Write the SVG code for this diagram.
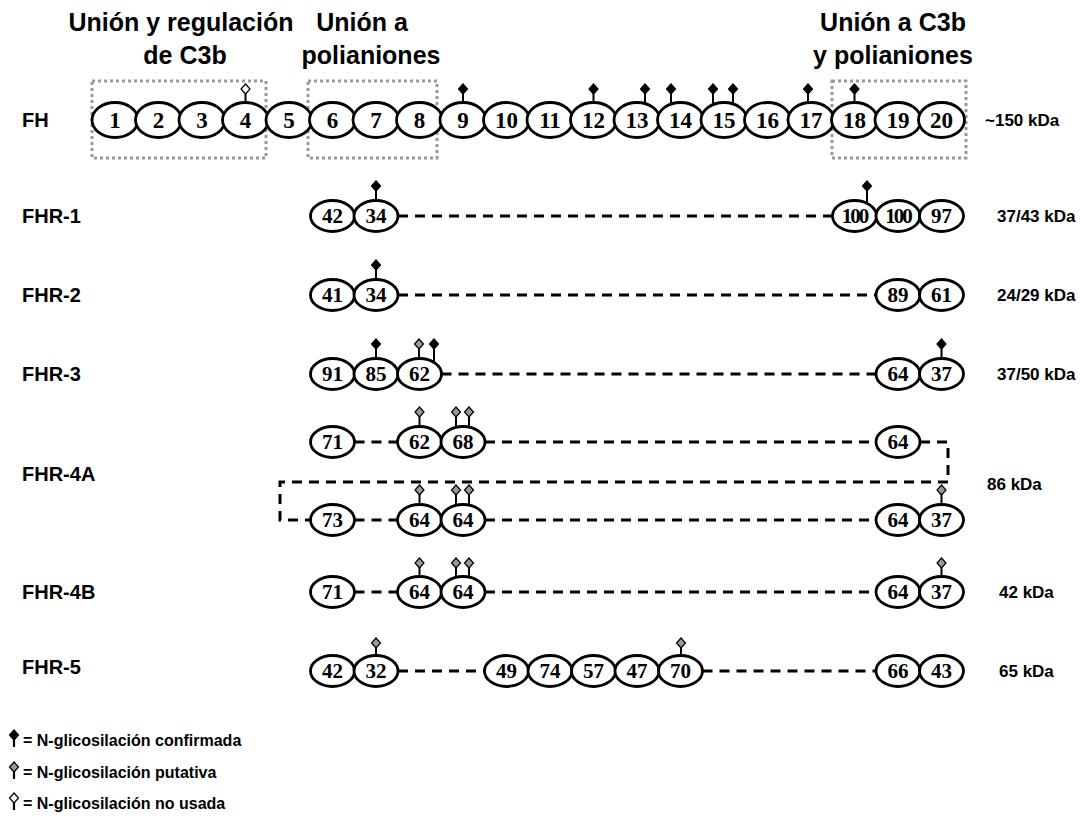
<svg xmlns="http://www.w3.org/2000/svg" xmlns:xlink="http://www.w3.org/1999/xlink" width="1083" height="820" viewBox="0 0 1083 820">
<style>
.dom{fill:#fff;stroke:#000;stroke-width:2.8}
.n{font-family:"Liberation Serif",serif;font-weight:bold;font-size:23px;text-anchor:middle}
.s{font-family:"Liberation Serif",serif;font-weight:bold;font-size:21px;text-anchor:middle}
.t{font-family:"Liberation Sans",Arial,sans-serif;font-weight:bold;font-size:25px;text-anchor:middle}
.lab{font-family:"Liberation Sans",Arial,sans-serif;font-weight:bold;font-size:20px}
.kda{font-family:"Liberation Sans",Arial,sans-serif;font-weight:bold;font-size:17px}
.leg{font-family:"Liberation Sans",Arial,sans-serif;font-weight:bold;font-size:16px}
.box{fill:none;stroke:#999;stroke-width:3;stroke-dasharray:3 3}
.dash{fill:none;stroke:#000;stroke-width:3;stroke-dasharray:10 7}
</style>
<defs>
<g id="mc"><line x1="0" y1="0" x2="0" y2="31" stroke="#000" stroke-width="2"/><path d="M0,-5 L4.5,0 L0,5 L-4.5,0 Z" fill="#000" stroke="#000" stroke-width="1.2"/></g>
<g id="mp"><line x1="0" y1="0" x2="0" y2="31" stroke="#000" stroke-width="2"/><path d="M0,-5 L4.5,0 L0,5 L-4.5,0 Z" fill="#999" stroke="#000" stroke-width="1.2"/></g>
<g id="mu"><line x1="0" y1="0" x2="0" y2="31" stroke="#000" stroke-width="2"/><path d="M0,-5 L4.5,0 L0,5 L-4.5,0 Z" fill="#fff" stroke="#000" stroke-width="1.2"/></g>
</defs>
<rect width="1083" height="820" fill="#fff"/>

<g id="titles">
<text class="t" x="181" y="31">Unión y regulación</text>
<text class="t" x="185" y="64">de C3b</text>
<text class="t" x="362" y="31">Unión a</text>
<text class="t" x="371" y="64">polianiones</text>
<text class="t" x="893" y="31">Unión a C3b</text>
<text class="t" x="893" y="64">y polianiones</text>
</g>

<g id="regions">
<rect class="box" x="92" y="81" width="174" height="77"/>
<rect class="box" x="308" y="81" width="129" height="77"/>
<rect class="box" x="832" y="81" width="134" height="77"/>
</g>

<g id="row-labels">
<text class="lab" x="22" y="127">FH</text>
<text class="lab" x="22" y="223">FHR-1</text>
<text class="lab" x="22" y="302">FHR-2</text>
<text class="lab" x="22" y="381">FHR-3</text>
<text class="lab" x="22" y="481">FHR-4A</text>
<text class="lab" x="22" y="599">FHR-4B</text>
<text class="lab" x="22" y="674">FHR-5</text>
</g>

<g id="kda">
<text class="kda" x="985" y="126">~150 kDa</text>
<text class="kda" x="997" y="222">37/43 kDa</text>
<text class="kda" x="997" y="301">24/29 kDa</text>
<text class="kda" x="997" y="380">37/50 kDa</text>
<text class="kda" x="987" y="490">86 kDa</text>
<text class="kda" x="999" y="598">42 kDa</text>
<text class="kda" x="999" y="677">65 kDa</text>
</g>

<g id="connectors">
<line class="dash" x1="398" y1="216" x2="832" y2="216"/>
<line class="dash" x1="398" y1="295" x2="876" y2="295"/>
<line class="dash" x1="441.5" y1="374" x2="876" y2="374"/>
<line class="dash" x1="354.5" y1="442" x2="397.5" y2="442"/>
<line class="dash" x1="485" y1="442" x2="876" y2="442"/>
<path class="dash" d="M920,442 H948 V482 H280 V520 H310.5"/>
<line class="dash" x1="354.5" y1="520" x2="397.5" y2="520"/>
<line class="dash" x1="485" y1="520" x2="876" y2="520"/>
<line class="dash" x1="354.5" y1="592" x2="397.5" y2="592"/>
<line class="dash" x1="485" y1="592" x2="876" y2="592"/>
<line class="dash" x1="398" y1="671" x2="484.5" y2="671"/>
<line class="dash" x1="702.5" y1="671" x2="876" y2="671"/>
</g>

<g id="glycosylation">
<use xlink:href="#mu" x="245.5" y="89"/>
<use xlink:href="#mc" x="463" y="89"/>
<use xlink:href="#mc" x="593.5" y="89"/>
<use xlink:href="#mc" x="645" y="89"/>
<use xlink:href="#mc" x="671" y="89"/>
<use xlink:href="#mc" x="713" y="89"/>
<use xlink:href="#mc" x="733" y="89"/>
<use xlink:href="#mc" x="808" y="89"/>
<use xlink:href="#mc" x="854.5" y="89"/>
<use xlink:href="#mc" x="376" y="186"/>
<use xlink:href="#mc" x="867" y="186"/>
<use xlink:href="#mc" x="376" y="265"/>
<use xlink:href="#mc" x="376" y="344"/>
<use xlink:href="#mp" x="419" y="344"/>
<use xlink:href="#mc" x="434" y="344"/>
<use xlink:href="#mc" x="941.5" y="344"/>
<use xlink:href="#mp" x="419.5" y="412"/>
<use xlink:href="#mp" x="456" y="412"/>
<use xlink:href="#mp" x="469" y="412"/>
<use xlink:href="#mp" x="419.5" y="490"/>
<use xlink:href="#mp" x="456" y="490"/>
<use xlink:href="#mp" x="469" y="490"/>
<use xlink:href="#mp" x="941.5" y="490"/>
<use xlink:href="#mp" x="419.5" y="563"/>
<use xlink:href="#mp" x="456" y="563"/>
<use xlink:href="#mp" x="469" y="563"/>
<use xlink:href="#mp" x="941.5" y="563"/>
<use xlink:href="#mp" x="376" y="643"/>
<use xlink:href="#mp" x="681" y="643"/>
</g>

<g id="FH">
<g id="fh-1"><ellipse class="dom" cx="115" cy="120" rx="23" ry="17.5"/><text class="n" x="115" y="128">1</text></g>
<g id="fh-2"><ellipse class="dom" cx="158.5" cy="120" rx="23" ry="17.5"/><text class="n" x="158.5" y="128">2</text></g>
<g id="fh-3"><ellipse class="dom" cx="202" cy="120" rx="23" ry="17.5"/><text class="n" x="202" y="128">3</text></g>
<g id="fh-4"><ellipse class="dom" cx="245.5" cy="120" rx="23" ry="17.5"/><text class="n" x="245.5" y="128">4</text></g>
<g id="fh-5"><ellipse class="dom" cx="289" cy="120" rx="23" ry="17.5"/><text class="n" x="289" y="128">5</text></g>
<g id="fh-6"><ellipse class="dom" cx="332.5" cy="120" rx="23" ry="17.5"/><text class="n" x="332.5" y="128">6</text></g>
<g id="fh-7"><ellipse class="dom" cx="376" cy="120" rx="23" ry="17.5"/><text class="n" x="376" y="128">7</text></g>
<g id="fh-8"><ellipse class="dom" cx="419.5" cy="120" rx="23" ry="17.5"/><text class="n" x="419.5" y="128">8</text></g>
<g id="fh-9"><ellipse class="dom" cx="463" cy="120" rx="23" ry="17.5"/><text class="n" x="463" y="128">9</text></g>
<g id="fh-10"><ellipse class="dom" cx="506.5" cy="120" rx="23" ry="17.5"/><text class="n" x="506.5" y="128">10</text></g>
<g id="fh-11"><ellipse class="dom" cx="550" cy="120" rx="23" ry="17.5"/><text class="n" x="550" y="128">11</text></g>
<g id="fh-12"><ellipse class="dom" cx="593.5" cy="120" rx="23" ry="17.5"/><text class="n" x="593.5" y="128">12</text></g>
<g id="fh-13"><ellipse class="dom" cx="637" cy="120" rx="23" ry="17.5"/><text class="n" x="637" y="128">13</text></g>
<g id="fh-14"><ellipse class="dom" cx="680.5" cy="120" rx="23" ry="17.5"/><text class="n" x="680.5" y="128">14</text></g>
<g id="fh-15"><ellipse class="dom" cx="724" cy="120" rx="23" ry="17.5"/><text class="n" x="724" y="128">15</text></g>
<g id="fh-16"><ellipse class="dom" cx="767.5" cy="120" rx="23" ry="17.5"/><text class="n" x="767.5" y="128">16</text></g>
<g id="fh-17"><ellipse class="dom" cx="811" cy="120" rx="23" ry="17.5"/><text class="n" x="811" y="128">17</text></g>
<g id="fh-18"><ellipse class="dom" cx="854.5" cy="120" rx="23" ry="17.5"/><text class="n" x="854.5" y="128">18</text></g>
<g id="fh-19"><ellipse class="dom" cx="898" cy="120" rx="23" ry="17.5"/><text class="n" x="898" y="128">19</text></g>
<g id="fh-20"><ellipse class="dom" cx="941.5" cy="120" rx="23" ry="17.5"/><text class="n" x="941.5" y="128">20</text></g>
</g>

<g id="FHR-1">
<g id="fhr1-1"><ellipse class="dom" cx="332.5" cy="216" rx="22" ry="15.5"/><text class="s" x="332.5" y="223">42</text></g>
<g id="fhr1-2"><ellipse class="dom" cx="376" cy="216" rx="22" ry="15.5"/><text class="s" x="376" y="223">34</text></g>
<g id="fhr1-3"><ellipse class="dom" cx="854.5" cy="216" rx="22" ry="15.5"/><text class="s" x="854.5" y="223" letter-spacing="-2">100</text></g>
<g id="fhr1-4"><ellipse class="dom" cx="898" cy="216" rx="22" ry="15.5"/><text class="s" x="898" y="223" letter-spacing="-2">100</text></g>
<g id="fhr1-5"><ellipse class="dom" cx="941.5" cy="216" rx="22" ry="15.5"/><text class="s" x="941.5" y="223">97</text></g>
</g>

<g id="FHR-2">
<g id="fhr2-1"><ellipse class="dom" cx="332.5" cy="295" rx="22" ry="15.5"/><text class="s" x="332.5" y="302">41</text></g>
<g id="fhr2-2"><ellipse class="dom" cx="376" cy="295" rx="22" ry="15.5"/><text class="s" x="376" y="302">34</text></g>
<g id="fhr2-3"><ellipse class="dom" cx="898" cy="295" rx="22" ry="15.5"/><text class="s" x="898" y="302">89</text></g>
<g id="fhr2-4"><ellipse class="dom" cx="941.5" cy="295" rx="22" ry="15.5"/><text class="s" x="941.5" y="302">61</text></g>
</g>

<g id="FHR-3">
<g id="fhr3-1"><ellipse class="dom" cx="332.5" cy="374" rx="22" ry="15.5"/><text class="s" x="332.5" y="381">91</text></g>
<g id="fhr3-2"><ellipse class="dom" cx="376" cy="374" rx="22" ry="15.5"/><text class="s" x="376" y="381">85</text></g>
<g id="fhr3-3"><ellipse class="dom" cx="419.5" cy="374" rx="22" ry="15.5"/><text class="s" x="419.5" y="381">62</text></g>
<g id="fhr3-4"><ellipse class="dom" cx="898" cy="374" rx="22" ry="15.5"/><text class="s" x="898" y="381">64</text></g>
<g id="fhr3-5"><ellipse class="dom" cx="941.5" cy="374" rx="22" ry="15.5"/><text class="s" x="941.5" y="381">37</text></g>
</g>

<g id="FHR-4A">
<g id="fhr4a-1"><ellipse class="dom" cx="332.5" cy="442" rx="22" ry="15.5"/><text class="s" x="332.5" y="449">71</text></g>
<g id="fhr4a-2"><ellipse class="dom" cx="419.5" cy="442" rx="22" ry="15.5"/><text class="s" x="419.5" y="449">62</text></g>
<g id="fhr4a-3"><ellipse class="dom" cx="463" cy="442" rx="22" ry="15.5"/><text class="s" x="463" y="449">68</text></g>
<g id="fhr4a-4"><ellipse class="dom" cx="898" cy="442" rx="22" ry="15.5"/><text class="s" x="898" y="449">64</text></g>
<g id="fhr4a-5"><ellipse class="dom" cx="332.5" cy="520" rx="22" ry="15.5"/><text class="s" x="332.5" y="527">73</text></g>
<g id="fhr4a-6"><ellipse class="dom" cx="419.5" cy="520" rx="22" ry="15.5"/><text class="s" x="419.5" y="527">64</text></g>
<g id="fhr4a-7"><ellipse class="dom" cx="463" cy="520" rx="22" ry="15.5"/><text class="s" x="463" y="527">64</text></g>
<g id="fhr4a-8"><ellipse class="dom" cx="898" cy="520" rx="22" ry="15.5"/><text class="s" x="898" y="527">64</text></g>
<g id="fhr4a-9"><ellipse class="dom" cx="941.5" cy="520" rx="22" ry="15.5"/><text class="s" x="941.5" y="527">37</text></g>
</g>

<g id="FHR-4B">
<g id="fhr4b-1"><ellipse class="dom" cx="332.5" cy="592" rx="22" ry="15.5"/><text class="s" x="332.5" y="599">71</text></g>
<g id="fhr4b-2"><ellipse class="dom" cx="419.5" cy="592" rx="22" ry="15.5"/><text class="s" x="419.5" y="599">64</text></g>
<g id="fhr4b-3"><ellipse class="dom" cx="463" cy="592" rx="22" ry="15.5"/><text class="s" x="463" y="599">64</text></g>
<g id="fhr4b-4"><ellipse class="dom" cx="898" cy="592" rx="22" ry="15.5"/><text class="s" x="898" y="599">64</text></g>
<g id="fhr4b-5"><ellipse class="dom" cx="941.5" cy="592" rx="22" ry="15.5"/><text class="s" x="941.5" y="599">37</text></g>
</g>

<g id="FHR-5">
<g id="fhr5-1"><ellipse class="dom" cx="332.5" cy="671" rx="22" ry="15.5"/><text class="s" x="332.5" y="678">42</text></g>
<g id="fhr5-2"><ellipse class="dom" cx="376" cy="671" rx="22" ry="15.5"/><text class="s" x="376" y="678">32</text></g>
<g id="fhr5-3"><ellipse class="dom" cx="506.5" cy="671" rx="22" ry="15.5"/><text class="s" x="506.5" y="678">49</text></g>
<g id="fhr5-4"><ellipse class="dom" cx="550" cy="671" rx="22" ry="15.5"/><text class="s" x="550" y="678">74</text></g>
<g id="fhr5-5"><ellipse class="dom" cx="593.5" cy="671" rx="22" ry="15.5"/><text class="s" x="593.5" y="678">57</text></g>
<g id="fhr5-6"><ellipse class="dom" cx="637" cy="671" rx="22" ry="15.5"/><text class="s" x="637" y="678">47</text></g>
<g id="fhr5-7"><ellipse class="dom" cx="680.5" cy="671" rx="22" ry="15.5"/><text class="s" x="680.5" y="678">70</text></g>
<g id="fhr5-8"><ellipse class="dom" cx="898" cy="671" rx="22" ry="15.5"/><text class="s" x="898" y="678">66</text></g>
<g id="fhr5-9"><ellipse class="dom" cx="941.5" cy="671" rx="22" ry="15.5"/><text class="s" x="941.5" y="678">43</text></g>
</g>

<g id="legend">
<g transform="translate(14,735)"><line x1="0" y1="0" x2="0" y2="12" stroke="#000" stroke-width="2.2"/><path d="M0,-5 L4.5,0 L0,5 L-4.5,0 Z" fill="#000" stroke="#000" stroke-width="1.2"/></g>
<text class="leg" x="23" y="746">= N-glicosilación confirmada</text>
<g transform="translate(14,767)"><line x1="0" y1="0" x2="0" y2="12" stroke="#000" stroke-width="2.2"/><path d="M0,-5 L4.5,0 L0,5 L-4.5,0 Z" fill="#999" stroke="#000" stroke-width="1.2"/></g>
<text class="leg" x="23" y="778">= N-glicosilación putativa</text>
<g transform="translate(14,798)"><line x1="0" y1="0" x2="0" y2="12" stroke="#000" stroke-width="2.2"/><path d="M0,-5 L4.5,0 L0,5 L-4.5,0 Z" fill="#fff" stroke="#000" stroke-width="1.2"/></g>
<text class="leg" x="23" y="809">= N-glicosilación no usada</text>
</g>
</svg>
